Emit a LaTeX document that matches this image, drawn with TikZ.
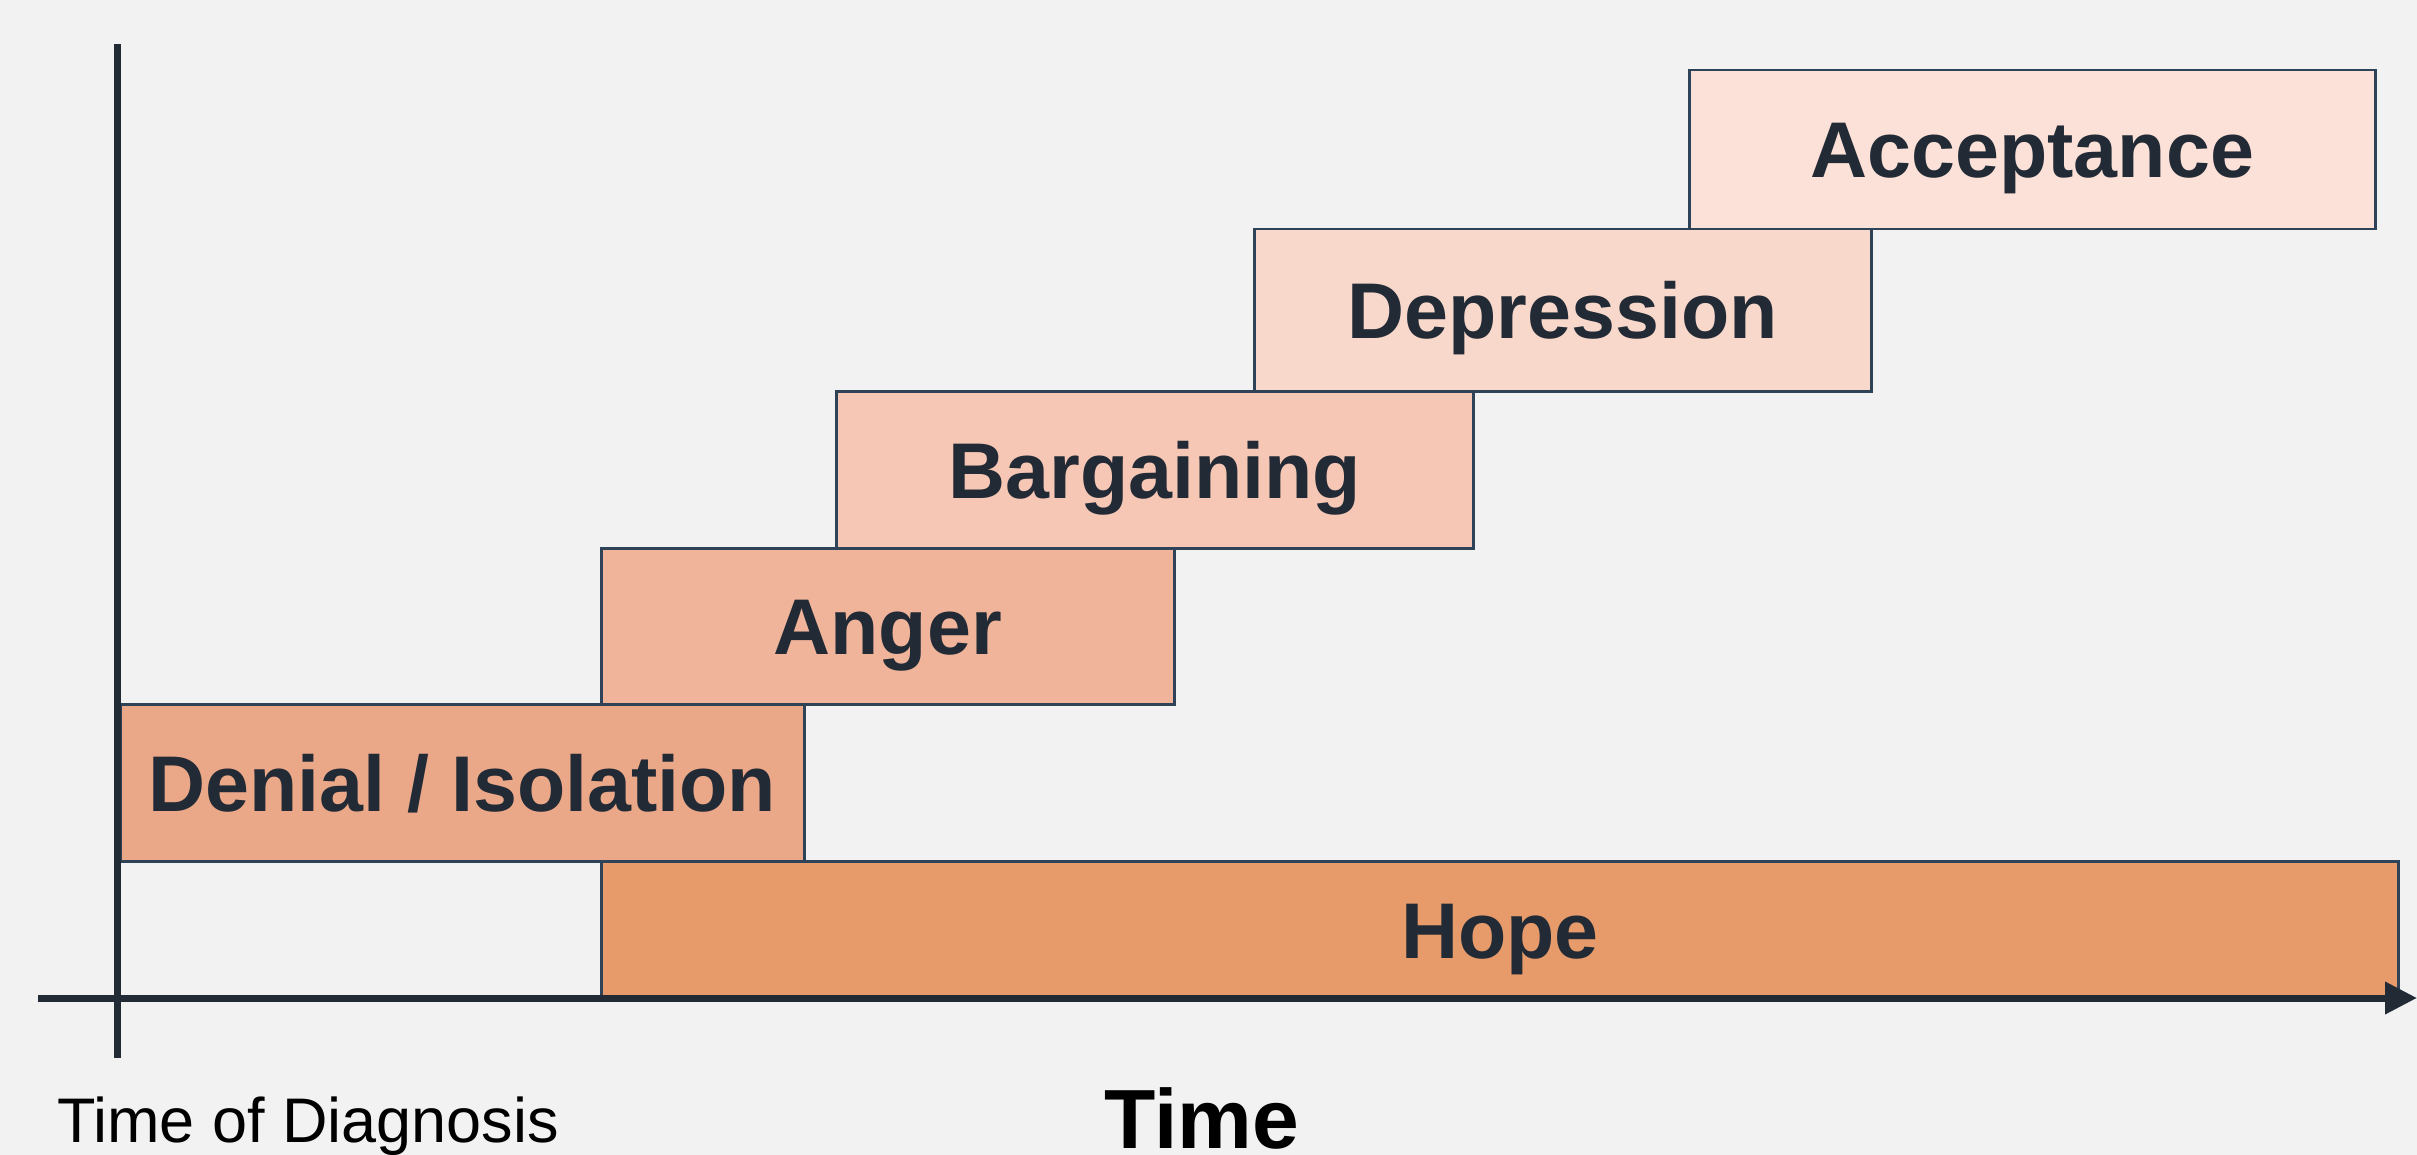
\documentclass[tikz,border=0pt]{standalone}
\usepackage{fontspec}
\setmainfont{Liberation Sans}
\usetikzlibrary{arrows.meta}
\definecolor{bg}{HTML}{F2F2F2}
\definecolor{ink}{HTML}{222A35}
\definecolor{edge}{HTML}{2E4358}
\definecolor{cDenial}{HTML}{EBA889}
\definecolor{cAnger}{HTML}{F0B49B}
\definecolor{cBarg}{HTML}{F6C7B5}
\definecolor{cDepr}{HTML}{F9D8CC}
\definecolor{cAcc}{HTML}{FBE1D8}
\definecolor{cHope}{HTML}{E79B6A}
\tikzset{
  stage/.style={draw=edge, line width=2.5pt, anchor=north west, inner sep=0pt,
    text=ink, font=\fontsize{79}{79}\selectfont\bfseries,
    text height=56.5pt, text depth=0pt, align=center},
  axis/.style={draw=ink, line width=7pt},
}
\begin{document}
\begin{tikzpicture}[x=1pt,y=-1pt]
\fill[bg] (0,0) rectangle (2417,1155);
\useasboundingbox (0,0) rectangle (2417,1155);
% boxes
\node[stage, fill=cHope, minimum width=1797pt, minimum height=138pt] (hope) at (600,860) {Hope};
\node[stage, fill=cDenial, minimum width=684pt, minimum height=157pt] (denial) at (119,703) {Denial / Isolation};
\node[stage, fill=cAnger, minimum width=573pt, minimum height=156pt] (anger) at (600,547) {Anger};
\node[stage, fill=cBarg, minimum width=637pt, minimum height=157pt] (barg) at (835,390) {Bargaining};
\node[stage, fill=cDepr, minimum width=617pt, minimum height=162pt] (depr) at (1253,228) {Depression};
\node[stage, fill=cAcc, minimum width=686pt, minimum height=159pt] (acc) at (1688,69) {Acceptance};
% axes
\coordinate (ytop) at (117,44);
\coordinate (ybot) at (117,1058);
\coordinate (xleft) at (38,998);
\coordinate (xright) at (2417,998);
\draw[axis] (ytop) -- (ybot);
\draw[axis, -{Triangle[length=32pt,width=31pt]}] (xleft) -- (xright);
% labels
\node[anchor=base west, inner sep=0pt, text=black, font=\fontsize{63}{63}\selectfont] (diag) at (57,1142) {Time of Diagnosis};
\node[anchor=base, inner sep=0pt, text depth=0pt, text=black, font=\fontsize{84}{84}\selectfont\bfseries] (time) at (1202,1148) {Time};
\end{tikzpicture}
\end{document}
